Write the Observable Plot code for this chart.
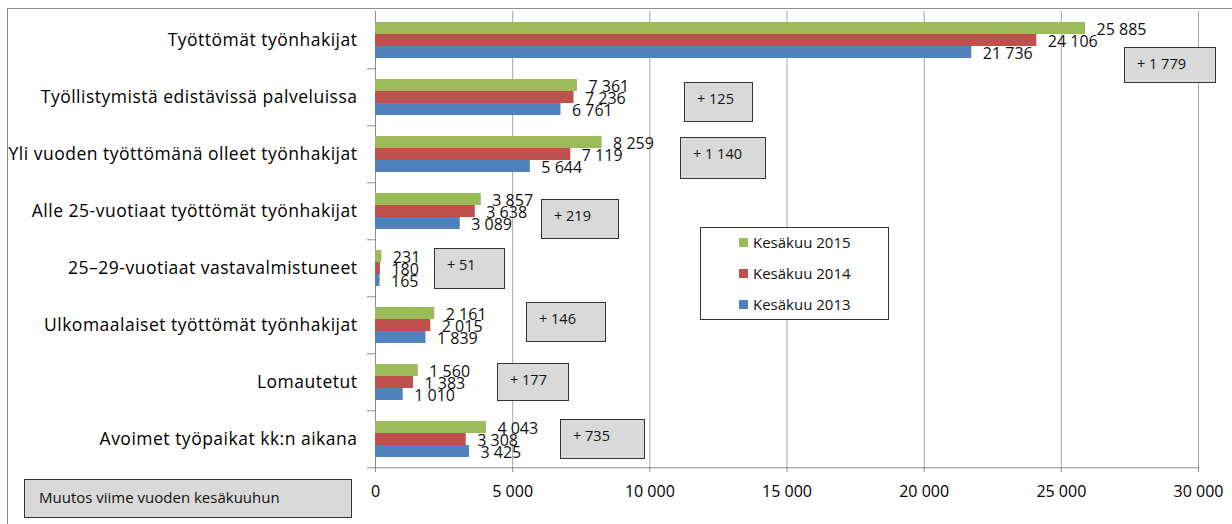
<!DOCTYPE html>
<html>
<head>
<meta charset="utf-8">
<script src="https://cdn.jsdelivr.net/npm/d3@7"></script>
<script src="https://cdn.jsdelivr.net/npm/@observablehq/plot@0.6"></script>
<style>
  html, body { margin: 0; padding: 0; background: #fff; }
  #wrap { position: relative; width: 1232px; height: 524px; overflow: hidden; font-family: "Open Sans", sans-serif; }
  #wrap svg { position: absolute; left: 0; top: 0; }
  .outer { position: absolute; left: 7px; top: 8px; width: 1300px; height: 600px; border-left: 1px solid #8c8c8c; border-top: 1px solid #8c8c8c; pointer-events: none; }
  .box { position: absolute; box-sizing: border-box; background: #d9d9d9; border: 1.5px solid #333; font-size: 14.5px; color: #111; padding-left: 12px; padding-top: 7px; line-height: 18px; white-space: nowrap; }
  .legend { position: absolute; box-sizing: border-box; background: #fff; border: 1.5px solid #333; }
  .legend .item { position: absolute; font-size: 15px; color: #111; line-height: 18px; white-space: nowrap; }
  .legend .sw { position: absolute; width: 9px; height: 9px; }
</style>
</head>
<body>
<div id="wrap"></div>
<script>
// ---- data ----
const categories = [
  "Työttömät työnhakijat",
  "Työllistymistä edistävissä palveluissa",
  "Yli vuoden työttömänä olleet työnhakijat",
  "Alle 25-vuotiaat työttömät työnhakijat",
  "25–29-vuotiaat vastavalmistuneet",
  "Ulkomaalaiset työttömät työnhakijat",
  "Lomautetut",
  "Avoimet työpaikat kk:n aikana"
];
const series = ["Kesäkuu 2015", "Kesäkuu 2014", "Kesäkuu 2013"];
const values2015 = [25885, 7361, 8259, 3857, 231, 2161, 1560, 4043];
const values2014 = [24106, 7236, 7119, 3638, 180, 2015, 1383, 3308];
const values2013 = [21736, 6761, 5644, 3089, 165, 1839, 1010, 3425];
const changes = [1779, 125, 1140, 219, 51, 146, 177, 735];
const xTicks = [0, 5000, 10000, 15000, 20000, 25000, 30000];
const changeTitle = "Muutos viime vuoden kesäkuuhun";
const colors = ["#9BBB59", "#C0504D", "#4F81BD"];

// ---- layout (pixels) ----
const W = 1232, H = 524;
const mL = 375, mR = 34, mT = 8, mB = 54;
const outerPad = 0.79;
// annotation boxes: [left, top, width, height]
const boxLayout = [
  [1124, 47, 92, 36],
  [684, 82, 69, 40],
  [680, 137, 86, 42],
  [541, 199, 78, 40],
  [434, 248, 71, 41],
  [526, 302, 80, 40],
  [497, 363, 72, 38],
  [560, 419, 85, 40]
];

const seriesValues = [values2015, values2014, values2013];
const long = categories.flatMap((c, i) =>
  series.map((s, j) => ({category: c, series: s, value: seriesValues[j][i]})));

const nb = "\u00a0";
const fmt = d => d3.format(",")(d).replace(/,/g, nb);

const facetStep = (H - mT - mB) / categories.length;
const barStep = facetStep / (series.length + 2 * outerPad);
const boundaryDy = barStep / 2 + outerPad * barStep;
const stubX = -8 * 30000 / (W - mL - mR);
const lastCat = categories[categories.length - 1];

const chart = Plot.plot({
  width: W, height: H,
  marginLeft: mL, marginRight: mR, marginTop: mT, marginBottom: mB,
  style: {fontFamily: "Open Sans, sans-serif", fontSize: "16px", color: "#000", background: "transparent"},
  x: {domain: [0, 30000], ticks: xTicks, tickFormat: fmt, tickSize: 5, tickPadding: 13, label: null},
  y: {domain: series, axis: null, paddingInner: 0, paddingOuter: outerPad},
  fy: {domain: categories, padding: 0, axis: "left", label: null, tickSize: 0, tickPadding: 18},
  color: {domain: series, range: colors},
  marks: [
    Plot.ruleX(xTicks.slice(1), {stroke: "#a6a6a6", strokeWidth: 1}),
    Plot.ruleX([0], {stroke: "#8c8c8c", strokeWidth: 1}),
    Plot.barX(long, {fy: "category", y: "series", x: "value", fill: "series"}),
    Plot.ruleY(categories, {
      fy: d => d, y: () => series[series.length - 1], dy: boundaryDy,
      x1: stubX, x2: d => d === lastCat ? 30000 : 0, stroke: "#8c8c8c", strokeWidth: 1
    }),
    Plot.text(long, {
      fy: "category", y: "series", x: "value", text: d => fmt(d.value),
      textAnchor: "start", dx: 11, dy: 1, fontSize: 16, fill: "#111"
    })
  ]
});

const wrap = document.getElementById("wrap");
wrap.appendChild(chart);

// axis styling
d3.select(chart).selectAll('g[aria-label^="x-axis"] line, g[aria-label^="x-axis"] path').attr("stroke", "#8c8c8c");
d3.select(chart).selectAll('g[aria-label^="fy-axis"] text')
  .style("font-size", "17.5px").style("letter-spacing", "0.5px");

// outer chart frame
const outer = document.createElement("div");
outer.className = "outer";
wrap.appendChild(outer);

// change boxes
changes.forEach((v, i) => {
  const [l, t, w, h] = boxLayout[i];
  const b = document.createElement("div");
  b.className = "box";
  b.style.left = l + "px"; b.style.top = t + "px";
  b.style.width = w + "px"; b.style.height = h + "px";
  b.textContent = "+ " + fmt(v);
  wrap.appendChild(b);
});

// title box for changes
const tb = document.createElement("div");
tb.className = "box";
tb.style.left = "24px"; tb.style.top = "479px"; tb.style.width = "328px"; tb.style.height = "39px";
tb.style.paddingLeft = "14px"; tb.style.paddingTop = "8px"; tb.style.fontSize = "15px";
tb.textContent = changeTitle;
wrap.appendChild(tb);

// legend
const color = chart.scale("color");
const lg = document.createElement("div");
lg.className = "legend";
lg.style.left = "700px"; lg.style.top = "227px"; lg.style.width = "189px"; lg.style.height = "93px";
series.forEach((s, i) => {
  const sw = document.createElement("div");
  sw.className = "sw";
  sw.style.left = "38px"; sw.style.top = (10 + i * 31) + "px";
  sw.style.background = color.apply(s);
  lg.appendChild(sw);
  const it = document.createElement("div");
  it.className = "item";
  it.style.left = "52px"; it.style.top = (5 + i * 31) + "px";
  it.textContent = s;
  lg.appendChild(it);
});
wrap.appendChild(lg);
</script>
</body>
</html>
